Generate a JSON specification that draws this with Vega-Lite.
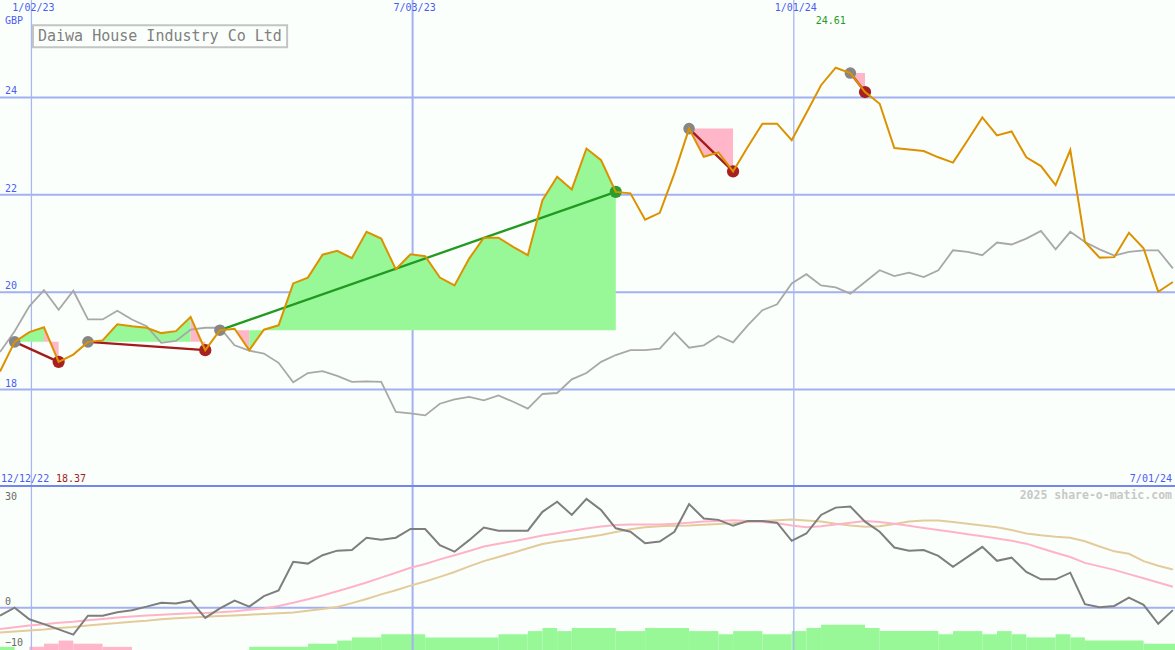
{
  "$schema": "https://vega.github.io/schema/vega-lite/v6.json",
  "background": "#fbfffb",
  "padding": 0,
  "spacing": 0,
  "bounds": "flush",
  "config": {"view": {"stroke": null}, "text": {"font": "DejaVu Sans Mono"}},
  "datasets": {
    "w": [
      {"d":"2022-12-18","p":18.37,"ix":18.77,"o":-2.3,"m1":-6.1,"m2":-7.1},
      {"d":"2022-12-25","p":18.98,"ix":19.2,"o":0,"m1":-5.6,"m2":-6.8},
      {"d":"2023-01-01","p":19.18,"ix":19.71,"o":-3.3,"m1":-5.1,"m2":-6.5},
      {"d":"2023-01-08","p":19.28,"ix":20.04,"o":-4.7,"m1":-4.7,"m2":-6.2},
      {"d":"2023-01-15","p":18.57,"ix":19.64,"o":-6.2,"m1":-4.3,"m2":-5.8},
      {"d":"2023-01-22","p":18.72,"ix":20.03,"o":-7.7,"m1":-4.0,"m2":-5.5},
      {"d":"2023-01-29","p":18.98,"ix":19.44,"o":-2.3,"m1":-3.6,"m2":-5.1},
      {"d":"2023-02-05","p":19.01,"ix":19.44,"o":-2.3,"m1":-3.2,"m2":-4.7},
      {"d":"2023-02-12","p":19.34,"ix":19.62,"o":-1.3,"m1":-2.8,"m2":-4.4},
      {"d":"2023-02-19","p":19.30,"ix":19.44,"o":-0.7,"m1":-2.5,"m2":-4.0},
      {"d":"2023-02-26","p":19.27,"ix":19.30,"o":0.3,"m1":-2.2,"m2":-3.7},
      {"d":"2023-03-05","p":19.16,"ix":18.96,"o":1.4,"m1":-2.0,"m2":-3.3},
      {"d":"2023-03-12","p":19.20,"ix":19.00,"o":1.2,"m1":-1.8,"m2":-3.0},
      {"d":"2023-03-19","p":19.49,"ix":19.23,"o":2.0,"m1":-1.6,"m2":-2.8},
      {"d":"2023-03-26","p":18.81,"ix":19.27,"o":-2.9,"m1":-1.5,"m2":-2.6},
      {"d":"2023-04-02","p":19.22,"ix":19.27,"o":-0.2,"m1":-1.3,"m2":-2.4},
      {"d":"2023-04-09","p":19.25,"ix":18.91,"o":2.0,"m1":-1.0,"m2":-2.2},
      {"d":"2023-04-16","p":18.81,"ix":18.80,"o":0.3,"m1":-0.6,"m2":-2.0},
      {"d":"2023-04-23","p":19.23,"ix":18.74,"o":3.3,"m1":-0.2,"m2":-1.8},
      {"d":"2023-04-30","p":19.32,"ix":18.55,"o":4.9,"m1":0.5,"m2":-1.6},
      {"d":"2023-05-07","p":20.18,"ix":18.15,"o":13.1,"m1":1.4,"m2":-1.4},
      {"d":"2023-05-14","p":20.30,"ix":18.34,"o":12.6,"m1":2.4,"m2":-0.9},
      {"d":"2023-05-21","p":20.77,"ix":18.38,"o":15.0,"m1":3.5,"m2":-0.4},
      {"d":"2023-05-28","p":20.85,"ix":18.28,"o":16.3,"m1":4.7,"m2":0.2},
      {"d":"2023-06-04","p":20.70,"ix":18.16,"o":16.5,"m1":5.9,"m2":1.3},
      {"d":"2023-06-11","p":21.24,"ix":18.17,"o":20.0,"m1":7.2,"m2":2.5},
      {"d":"2023-06-18","p":21.10,"ix":18.16,"o":19.4,"m1":8.6,"m2":3.8},
      {"d":"2023-06-25","p":20.47,"ix":17.54,"o":20.0,"m1":10.0,"m2":5.0},
      {"d":"2023-07-02","p":20.78,"ix":17.51,"o":22.5,"m1":11.4,"m2":6.3},
      {"d":"2023-07-09","p":20.74,"ix":17.47,"o":22.5,"m1":12.5,"m2":7.5},
      {"d":"2023-07-16","p":20.30,"ix":17.71,"o":17.9,"m1":13.8,"m2":8.8},
      {"d":"2023-07-23","p":20.14,"ix":17.80,"o":16.0,"m1":15.0,"m2":10.2},
      {"d":"2023-07-30","p":20.69,"ix":17.85,"o":19.3,"m1":16.2,"m2":11.8},
      {"d":"2023-08-06","p":21.12,"ix":17.78,"o":22.9,"m1":17.5,"m2":13.3},
      {"d":"2023-08-13","p":21.12,"ix":17.88,"o":22.0,"m1":18.3,"m2":14.5},
      {"d":"2023-08-20","p":20.93,"ix":17.75,"o":22.0,"m1":19.0,"m2":15.7},
      {"d":"2023-08-27","p":20.76,"ix":17.61,"o":22.0,"m1":19.8,"m2":17.0},
      {"d":"2023-09-03","p":21.89,"ix":17.91,"o":27.4,"m1":20.6,"m2":18.2},
      {"d":"2023-09-10","p":22.37,"ix":17.93,"o":30.3,"m1":21.3,"m2":18.9},
      {"d":"2023-09-17","p":22.11,"ix":18.21,"o":26.5,"m1":22.0,"m2":19.5},
      {"d":"2023-09-24","p":22.95,"ix":18.34,"o":31.1,"m1":22.6,"m2":20.1},
      {"d":"2023-10-01","p":22.71,"ix":18.57,"o":27.9,"m1":23.2,"m2":20.8},
      {"d":"2023-10-08","p":22.06,"ix":18.71,"o":22.7,"m1":23.6,"m2":21.6},
      {"d":"2023-10-15","p":22.03,"ix":18.81,"o":21.7,"m1":23.8,"m2":22.4},
      {"d":"2023-10-22","p":21.49,"ix":18.81,"o":18.4,"m1":23.8,"m2":23.0},
      {"d":"2023-10-29","p":21.63,"ix":18.84,"o":18.9,"m1":23.8,"m2":23.3},
      {"d":"2023-11-05","p":22.44,"ix":19.17,"o":21.7,"m1":24.0,"m2":23.4},
      {"d":"2023-11-12","p":23.36,"ix":18.86,"o":29.6,"m1":24.3,"m2":23.5},
      {"d":"2023-11-19","p":22.78,"ix":18.91,"o":25.5,"m1":24.6,"m2":23.7},
      {"d":"2023-11-26","p":22.87,"ix":19.10,"o":25.1,"m1":24.8,"m2":23.9},
      {"d":"2023-12-03","p":22.48,"ix":18.97,"o":23.4,"m1":25.0,"m2":24.1},
      {"d":"2023-12-10","p":22.98,"ix":19.32,"o":24.8,"m1":24.8,"m2":24.5},
      {"d":"2023-12-17","p":23.46,"ix":19.63,"o":24.8,"m1":24.5,"m2":24.8},
      {"d":"2023-12-24","p":23.46,"ix":19.75,"o":24.3,"m1":24.1,"m2":25.0},
      {"d":"2023-12-31","p":23.12,"ix":20.18,"o":19.1,"m1":23.5,"m2":25.2},
      {"d":"2024-01-07","p":23.68,"ix":20.37,"o":21.2,"m1":23.0,"m2":24.9},
      {"d":"2024-01-14","p":24.25,"ix":20.14,"o":26.5,"m1":23.3,"m2":24.6},
      {"d":"2024-01-21","p":24.61,"ix":20.10,"o":28.6,"m1":23.8,"m2":24.0},
      {"d":"2024-01-28","p":24.50,"ix":19.97,"o":28.9,"m1":24.3,"m2":23.5},
      {"d":"2024-02-04","p":24.11,"ix":20.21,"o":24.6,"m1":24.8,"m2":23.1},
      {"d":"2024-02-11","p":23.87,"ix":20.45,"o":21.7,"m1":24.5,"m2":23.3},
      {"d":"2024-02-18","p":22.96,"ix":20.33,"o":17.2,"m1":24.0,"m2":23.9},
      {"d":"2024-02-25","p":22.93,"ix":20.40,"o":16.3,"m1":23.4,"m2":24.6},
      {"d":"2024-03-03","p":22.90,"ix":20.31,"o":16.5,"m1":22.8,"m2":24.9},
      {"d":"2024-03-10","p":22.77,"ix":20.45,"o":14.8,"m1":22.2,"m2":24.9},
      {"d":"2024-03-17","p":22.66,"ix":20.86,"o":11.7,"m1":21.6,"m2":24.5},
      {"d":"2024-03-24","p":23.12,"ix":20.83,"o":14.5,"m1":21.0,"m2":24.0},
      {"d":"2024-03-31","p":23.59,"ix":20.76,"o":17.4,"m1":20.4,"m2":23.5},
      {"d":"2024-04-07","p":23.22,"ix":21.02,"o":13.4,"m1":19.8,"m2":23.0},
      {"d":"2024-04-14","p":23.30,"ix":20.98,"o":14.3,"m1":19.1,"m2":22.2},
      {"d":"2024-04-21","p":22.77,"ix":21.10,"o":10.2,"m1":18.3,"m2":21.2},
      {"d":"2024-04-28","p":22.59,"ix":21.26,"o":8.1,"m1":17.0,"m2":20.7},
      {"d":"2024-05-05","p":22.20,"ix":20.88,"o":8.1,"m1":15.7,"m2":20.3},
      {"d":"2024-05-12","p":22.92,"ix":21.24,"o":10.0,"m1":14.5,"m2":20.0},
      {"d":"2024-05-19","p":21.03,"ix":21.03,"o":1.0,"m1":12.8,"m2":19.0},
      {"d":"2024-05-26","p":20.71,"ix":20.88,"o":0.1,"m1":11.8,"m2":17.5},
      {"d":"2024-06-02","p":20.72,"ix":20.75,"o":0.5,"m1":10.8,"m2":16.1},
      {"d":"2024-06-09","p":21.22,"ix":20.83,"o":2.9,"m1":9.6,"m2":15.4},
      {"d":"2024-06-16","p":20.90,"ix":20.86,"o":0.8,"m1":8.4,"m2":13.3},
      {"d":"2024-06-23","p":20.01,"ix":20.86,"o":-4.6,"m1":7.2,"m2":12.0},
      {"d":"2024-06-30","p":20.21,"ix":20.49,"o":-0.7,"m1":6.0,"m2":10.9}
    ],
    "fill": [
      {"g":1,"s":"up","d":"2022-12-25","p":18.98,"base":18.98},
      {"g":1,"s":"up","d":"2023-01-01","p":19.18,"base":18.98},
      {"g":1,"s":"up","d":"2023-01-08","p":19.28,"base":18.98},
      {"g":2,"s":"dn","d":"2023-01-08","p":19.28,"base":18.98},
      {"g":2,"s":"dn","d":"2023-01-15","p":18.57,"base":18.98},
      {"g":3,"s":"up","d":"2023-01-29","p":18.98,"base":18.98},
      {"g":3,"s":"up","d":"2023-02-05","p":19.01,"base":18.98},
      {"g":3,"s":"up","d":"2023-02-12","p":19.34,"base":18.98},
      {"g":3,"s":"up","d":"2023-02-19","p":19.30,"base":18.98},
      {"g":3,"s":"up","d":"2023-02-26","p":19.27,"base":18.98},
      {"g":3,"s":"up","d":"2023-03-05","p":19.16,"base":18.98},
      {"g":3,"s":"up","d":"2023-03-12","p":19.20,"base":18.98},
      {"g":3,"s":"up","d":"2023-03-19","p":19.49,"base":18.98},
      {"g":4,"s":"dn","d":"2023-03-19","p":19.49,"base":18.98},
      {"g":4,"s":"dn","d":"2023-03-26","p":18.81,"base":18.98},
      {"g":5,"s":"up","d":"2023-04-02","p":19.22,"base":19.22},
      {"g":5,"s":"up","d":"2023-04-09","p":19.25,"base":19.22},
      {"g":6,"s":"dn","d":"2023-04-09","p":19.25,"base":19.22},
      {"g":6,"s":"dn","d":"2023-04-16","p":18.81,"base":19.22},
      {"g":7,"s":"up","d":"2023-04-16","p":18.81,"base":19.22},
      {"g":7,"s":"up","d":"2023-04-23","p":19.23,"base":19.22},
      {"g":7,"s":"up","d":"2023-04-30","p":19.32,"base":19.22},
      {"g":7,"s":"up","d":"2023-05-07","p":20.18,"base":19.22},
      {"g":7,"s":"up","d":"2023-05-14","p":20.30,"base":19.22},
      {"g":7,"s":"up","d":"2023-05-21","p":20.77,"base":19.22},
      {"g":7,"s":"up","d":"2023-05-28","p":20.85,"base":19.22},
      {"g":7,"s":"up","d":"2023-06-04","p":20.70,"base":19.22},
      {"g":7,"s":"up","d":"2023-06-11","p":21.24,"base":19.22},
      {"g":7,"s":"up","d":"2023-06-18","p":21.10,"base":19.22},
      {"g":7,"s":"up","d":"2023-06-25","p":20.47,"base":19.22},
      {"g":7,"s":"up","d":"2023-07-02","p":20.78,"base":19.22},
      {"g":7,"s":"up","d":"2023-07-09","p":20.74,"base":19.22},
      {"g":7,"s":"up","d":"2023-07-16","p":20.30,"base":19.22},
      {"g":7,"s":"up","d":"2023-07-23","p":20.14,"base":19.22},
      {"g":7,"s":"up","d":"2023-07-30","p":20.69,"base":19.22},
      {"g":7,"s":"up","d":"2023-08-06","p":21.12,"base":19.22},
      {"g":7,"s":"up","d":"2023-08-13","p":21.12,"base":19.22},
      {"g":7,"s":"up","d":"2023-08-20","p":20.93,"base":19.22},
      {"g":7,"s":"up","d":"2023-08-27","p":20.76,"base":19.22},
      {"g":7,"s":"up","d":"2023-09-03","p":21.89,"base":19.22},
      {"g":7,"s":"up","d":"2023-09-10","p":22.37,"base":19.22},
      {"g":7,"s":"up","d":"2023-09-17","p":22.11,"base":19.22},
      {"g":7,"s":"up","d":"2023-09-24","p":22.95,"base":19.22},
      {"g":7,"s":"up","d":"2023-10-01","p":22.71,"base":19.22},
      {"g":7,"s":"up","d":"2023-10-08","p":22.06,"base":19.22},
      {"g":8,"s":"dn","d":"2023-11-12","p":23.36,"base":23.36},
      {"g":8,"s":"dn","d":"2023-11-19","p":22.78,"base":23.36},
      {"g":8,"s":"dn","d":"2023-11-26","p":22.87,"base":23.36},
      {"g":8,"s":"dn","d":"2023-12-03","p":22.48,"base":23.36},
      {"g":9,"s":"dn","d":"2024-01-28","p":24.50,"base":24.50},
      {"g":9,"s":"dn","d":"2024-02-04","p":24.11,"base":24.50}
    ],
    "trades": [
      {"d0":"2022-12-25","p0":18.98,"d1":"2023-01-15","p1":18.57,"res":"loss"},
      {"d0":"2023-01-29","p0":18.98,"d1":"2023-03-26","p1":18.81,"res":"loss"},
      {"d0":"2023-04-02","p0":19.22,"d1":"2023-10-08","p1":22.06,"res":"gain"},
      {"d0":"2023-11-12","p0":23.36,"d1":"2023-12-03","p1":22.48,"res":"loss"},
      {"d0":"2024-01-28","p0":24.50,"d1":"2024-02-04","p1":24.11,"res":"loss"}
    ],
    "bars": [
      {"d0":"2022-12-18","d1":"2022-12-25","lvl":1,"s":"g"},
      {"d0":"2023-01-01","d1":"2023-01-08","lvl":1,"s":"r"},
      {"d0":"2023-01-08","d1":"2023-01-15","lvl":2,"s":"r"},
      {"d0":"2023-01-15","d1":"2023-01-22","lvl":3,"s":"r"},
      {"d0":"2023-01-22","d1":"2023-02-05","lvl":2,"s":"r"},
      {"d0":"2023-02-05","d1":"2023-02-19","lvl":1,"s":"r"},
      {"d0":"2023-04-16","d1":"2023-05-14","lvl":1,"s":"g"},
      {"d0":"2023-05-14","d1":"2023-05-28","lvl":2,"s":"g"},
      {"d0":"2023-05-28","d1":"2023-06-04","lvl":3,"s":"g"},
      {"d0":"2023-06-04","d1":"2023-06-18","lvl":4,"s":"g"},
      {"d0":"2023-06-18","d1":"2023-07-09","lvl":5,"s":"g"},
      {"d0":"2023-07-09","d1":"2023-08-13","lvl":4,"s":"g"},
      {"d0":"2023-08-13","d1":"2023-08-27","lvl":5,"s":"g"},
      {"d0":"2023-08-27","d1":"2023-09-03","lvl":6,"s":"g"},
      {"d0":"2023-09-03","d1":"2023-09-10","lvl":7,"s":"g"},
      {"d0":"2023-09-10","d1":"2023-09-17","lvl":6,"s":"g"},
      {"d0":"2023-09-17","d1":"2023-10-08","lvl":7,"s":"g"},
      {"d0":"2023-10-08","d1":"2023-10-22","lvl":6,"s":"g"},
      {"d0":"2023-10-22","d1":"2023-11-12","lvl":7,"s":"g"},
      {"d0":"2023-11-12","d1":"2023-11-26","lvl":6,"s":"g"},
      {"d0":"2023-11-26","d1":"2023-12-03","lvl":5,"s":"g"},
      {"d0":"2023-12-03","d1":"2023-12-17","lvl":6,"s":"g"},
      {"d0":"2023-12-17","d1":"2023-12-31","lvl":5,"s":"g"},
      {"d0":"2023-12-31","d1":"2024-01-07","lvl":6,"s":"g"},
      {"d0":"2024-01-07","d1":"2024-01-14","lvl":7,"s":"g"},
      {"d0":"2024-01-14","d1":"2024-02-04","lvl":8,"s":"g"},
      {"d0":"2024-02-04","d1":"2024-02-11","lvl":7,"s":"g"},
      {"d0":"2024-02-11","d1":"2024-03-10","lvl":6,"s":"g"},
      {"d0":"2024-03-10","d1":"2024-03-17","lvl":5,"s":"g"},
      {"d0":"2024-03-17","d1":"2024-03-31","lvl":6,"s":"g"},
      {"d0":"2024-03-31","d1":"2024-04-07","lvl":5,"s":"g"},
      {"d0":"2024-04-07","d1":"2024-04-14","lvl":6,"s":"g"},
      {"d0":"2024-04-14","d1":"2024-04-21","lvl":5,"s":"g"},
      {"d0":"2024-04-21","d1":"2024-05-05","lvl":4,"s":"g"},
      {"d0":"2024-05-05","d1":"2024-05-12","lvl":5,"s":"g"},
      {"d0":"2024-05-12","d1":"2024-05-19","lvl":4,"s":"g"},
      {"d0":"2024-05-19","d1":"2024-06-16","lvl":3,"s":"g"},
      {"d0":"2024-06-16","d1":"2024-07-01","lvl":2,"s":"g"}
    ],
    "hgrid": [{"v":18},{"v":20},{"v":22},{"v":24}],
    "vgrid": [{"d":"2023-01-02","lab":"1/02/23"},{"d":"2023-07-03","lab":"7/03/23"},{"d":"2024-01-01","lab":"1/01/24"}]
  },
  "vconcat": [
    {
      "width": 1175,
      "height": 487,
      "resolve": {"scale": {"color": "independent"}},
      "layer": [
        {"data":{"name":"hgrid"},"mark":{"type":"rule","color":"#a3b0f2","strokeWidth":2,"clip":true},
         "encoding":{"y":{"field":"v","type":"quantitative","scale":{"domain":[16,26],"nice":false,"zero":false},"axis":null}}},
        {"data":{"name":"vgrid"},"transform":[{"filter":"datum.lab != '7/03/23'"}],"mark":{"type":"rule","color":"#a8b6f4","strokeWidth":1.3,"clip":true},
         "encoding":{"x":{"field":"d","type":"temporal","scale":{"domain":[{"year":2022,"month":12,"date":18,"utc":true},{"year":2024,"month":7,"date":1,"utc":true}]},"axis":null}}},
        {"data":{"name":"vgrid"},"transform":[{"filter":"datum.lab == '7/03/23'"}],"mark":{"type":"rule","color":"#a3b0f2","strokeWidth":2,"clip":true},
         "encoding":{"x":{"field":"d","type":"temporal","axis":null}}},
        {"data":{"name":"fill"},"mark":{"type":"area","opacity":1,"interpolate":"linear","clip":true},
         "encoding":{
           "x":{"field":"d","type":"temporal","axis":null},
           "y":{"field":"p","type":"quantitative","stack":null,"scale":{"domain":[16,26]},"axis":null},
           "y2":{"field":"base"},
           "detail":{"field":"g"},
           "color":{"field":"s","type":"nominal","scale":{"domain":["up","dn"],"range":["#98f898","#ffb6c8"]},"legend":null}}},
        {"data":{"name":"w"},"mark":{"type":"line","color":"#a8a8a8","strokeWidth":1.8,"clip":true},
         "encoding":{"x":{"field":"d","type":"temporal","axis":null},"y":{"field":"ix","type":"quantitative","scale":{"domain":[16,26]},"axis":null}}},
        {"data":{"name":"trades"},"mark":{"type":"rule","strokeWidth":2.3,"clip":true},
         "encoding":{
           "x":{"field":"d0","type":"temporal","axis":null},"x2":{"field":"d1"},
           "y":{"field":"p0","type":"quantitative","scale":{"domain":[16,26]},"axis":null},"y2":{"field":"p1"},
           "color":{"field":"res","type":"nominal","scale":{"domain":["gain","loss"],"range":["#229a22","#a31c1c"]},"legend":null}}},
        {"data":{"name":"trades"},"mark":{"type":"circle","opacity":1,"size":135,"color":"#868686","clip":true},
         "encoding":{"x":{"field":"d0","type":"temporal","axis":null},"y":{"field":"p0","type":"quantitative","scale":{"domain":[16,26]},"axis":null}}},
        {"data":{"name":"trades"},"mark":{"type":"circle","opacity":1,"size":150,"clip":true},
         "encoding":{"x":{"field":"d1","type":"temporal","axis":null},"y":{"field":"p1","type":"quantitative","scale":{"domain":[16,26]},"axis":null},
           "color":{"field":"res","type":"nominal","scale":{"domain":["gain","loss"],"range":["#2a9e2a","#a82020"]},"legend":null}}},
        {"data":{"name":"w"},"mark":{"type":"line","color":"#dc9200","strokeWidth":2,"clip":true},
         "encoding":{"x":{"field":"d","type":"temporal","axis":null},"y":{"field":"p","type":"quantitative","scale":{"domain":[16,26]},"axis":null}}},
        {"data":{"name":"hgrid"},"mark":{"type":"text","align":"left","baseline":"middle","dx":5,"dy":-6,"fontSize":10,"color":"#4a5cf2"},
         "encoding":{"x":{"datum":{"year":2022,"month":12,"date":18,"utc":true},"type":"temporal"},"y":{"field":"v","type":"quantitative","scale":{"domain":[16,26]}},"text":{"field":"v","type":"quantitative"}}},
        {"data":{"name":"vgrid"},"mark":{"type":"text","align":"center","baseline":"middle","dx":2,"fontSize":10,"color":"#4a5cf2"},
         "encoding":{"x":{"field":"d","type":"temporal"},"y":{"datum":25.83,"scale":{"domain":[16,26]}},"text":{"field":"lab"}}},
        {"data":{"values":[{"t":"GBP"}]},"mark":{"type":"text","align":"left","baseline":"middle","dx":5,"fontSize":10,"color":"#4a5cf2"},
         "encoding":{"x":{"datum":{"year":2022,"month":12,"date":18,"utc":true},"type":"temporal"},"y":{"datum":25.56,"scale":{"domain":[16,26]}},"text":{"field":"t"}}},
        {"data":{"values":[{"t":"12/12/22"}]},"mark":{"type":"text","align":"left","baseline":"middle","dx":1,"fontSize":10,"color":"#4a5cf2"},
         "encoding":{"x":{"datum":{"year":2022,"month":12,"date":18,"utc":true},"type":"temporal"},"y":{"datum":16.16,"scale":{"domain":[16,26]}},"text":{"field":"t"}}},
        {"data":{"values":[{"t":"18.37"}]},"mark":{"type":"text","align":"left","baseline":"middle","dx":56,"fontSize":10,"color":"#a31c1c"},
         "encoding":{"x":{"datum":{"year":2022,"month":12,"date":18,"utc":true},"type":"temporal"},"y":{"datum":16.16,"scale":{"domain":[16,26]}},"text":{"field":"t"}}},
        {"data":{"values":[{"t":"7/01/24"}]},"mark":{"type":"text","align":"right","baseline":"middle","dx":-3,"fontSize":10,"color":"#4a5cf2"},
         "encoding":{"x":{"datum":{"year":2024,"month":7,"date":1,"utc":true},"type":"temporal"},"y":{"datum":16.16,"scale":{"domain":[16,26]}},"text":{"field":"t"}}},
        {"data":{"values":[{"d":"2024-01-21","t":"24.61"}]},"mark":{"type":"text","align":"center","baseline":"middle","dx":-5,"fontSize":10,"color":"#1f9a1f"},
         "encoding":{"x":{"field":"d","type":"temporal"},"y":{"datum":25.565,"scale":{"domain":[16,26]}},"text":{"field":"t"}}},
        {"data":{"values":[{"t":"box"}]},"mark":{"type":"rect","fill":"transparent","stroke":"#c4c4c4","strokeWidth":2},
         "encoding":{"x":{"datum":{"year":2023,"month":1,"date":2,"hours":18,"utc":true},"type":"temporal"},"x2":{"datum":{"year":2023,"month":5,"date":4,"hours":2,"utc":true}},
           "y":{"datum":25.483,"scale":{"domain":[16,26]}},"y2":{"datum":25.031}}},
        {"data":{"values":[{"t":"Daiwa House Industry Co Ltd"}]},"mark":{"type":"text","align":"left","baseline":"middle","dx":38,"fontSize":15,"color":"#808080"},
         "encoding":{"x":{"datum":{"year":2022,"month":12,"date":18,"utc":true},"type":"temporal"},"y":{"datum":25.257,"scale":{"domain":[16,26]}},"text":{"field":"t"}}},
        {"data":{"values":[{"v":16.022}]},"mark":{"type":"rule","color":"#7485ec","strokeWidth":2,"clip":true},
         "encoding":{"y":{"field":"v","type":"quantitative","scale":{"domain":[16,26]}}}}
      ]
    },
    {
      "width": 1175,
      "height": 163,
      "resolve": {"scale": {"y": "independent"}},
      "layer": [
        {"data":{"name":"bars"},"mark":{"type":"rect","clip":true},
         "encoding":{
           "x":{"field":"d0","type":"temporal","scale":{"domain":[{"year":2022,"month":12,"date":18,"utc":true},{"year":2024,"month":7,"date":1,"utc":true}]},"axis":null},
           "x2":{"field":"d1"},
           "y":{"field":"lvl","type":"quantitative","scale":{"domain":[0,51.75],"nice":false},"axis":null},
           "y2":{"datum":0},
           "color":{"field":"s","type":"nominal","scale":{"domain":["g","r"],"range":["#98f898","#ffb6c8"]},"legend":null}}},
        {
          "layer": [
            {"data":{"values":[{"v":0}]},"mark":{"type":"rule","color":"#a3b0f2","strokeWidth":2,"clip":true},
             "encoding":{"y":{"field":"v","type":"quantitative","scale":{"domain":[-12.09,34.49],"nice":false,"zero":false},"axis":null}}},
            {"data":{"name":"vgrid"},"transform":[{"filter":"datum.lab != '7/03/23'"}],"mark":{"type":"rule","color":"#a8b6f4","strokeWidth":1.3,"clip":true},
             "encoding":{"x":{"field":"d","type":"temporal","axis":null}}},
            {"data":{"name":"vgrid"},"transform":[{"filter":"datum.lab == '7/03/23'"}],"mark":{"type":"rule","color":"#a3b0f2","strokeWidth":2,"clip":true},
             "encoding":{"x":{"field":"d","type":"temporal","axis":null}}},
            {"data":{"name":"w"},"mark":{"type":"line","color":"#e3cb9c","strokeWidth":2,"clip":true},
             "encoding":{"x":{"field":"d","type":"temporal","axis":null},"y":{"field":"m2","type":"quantitative","scale":{"domain":[-12.09,34.49]},"axis":null}}},
            {"data":{"name":"w"},"mark":{"type":"line","color":"#ffb3c9","strokeWidth":2,"clip":true},
             "encoding":{"x":{"field":"d","type":"temporal","axis":null},"y":{"field":"m1","type":"quantitative","scale":{"domain":[-12.09,34.49]},"axis":null}}},
            {"data":{"name":"w"},"mark":{"type":"line","color":"#7e7e7e","strokeWidth":2,"clip":true},
             "encoding":{"x":{"field":"d","type":"temporal","axis":null},"y":{"field":"o","type":"quantitative","scale":{"domain":[-12.09,34.49]},"axis":null}}},
            {"data":{"values":[{"v":30},{"v":0}]},"mark":{"type":"text","align":"left","baseline":"middle","dx":5,"dy":-6,"fontSize":10,"color":"#6a6a6a"},
             "encoding":{"x":{"datum":{"year":2022,"month":12,"date":18,"utc":true},"type":"temporal"},"y":{"field":"v","type":"quantitative","scale":{"domain":[-12.09,34.49]}},"text":{"field":"v","type":"quantitative"}}},
            {"data":{"values":[{"v":-10}]},"mark":{"type":"text","align":"left","baseline":"middle","dx":5,"fontSize":10,"color":"#6a6a6a"},
             "encoding":{"x":{"datum":{"year":2022,"month":12,"date":18,"utc":true},"type":"temporal"},"y":{"field":"v","type":"quantitative","scale":{"domain":[-12.09,34.49]}},"text":{"field":"v","type":"quantitative"}}},
            {"data":{"values":[{"t":"2025 share-o-matic.com"}]},"mark":{"type":"text","align":"right","baseline":"middle","dx":-3,"fontSize":11.5,"fontWeight":"bold","color":"#c8c8c8"},
             "encoding":{"x":{"datum":{"year":2024,"month":7,"date":1,"utc":true},"type":"temporal"},"y":{"datum":31.9,"scale":{"domain":[-12.09,34.49]}},"text":{"field":"t"}}}
          ]
        }
      ]
    }
  ]
}
